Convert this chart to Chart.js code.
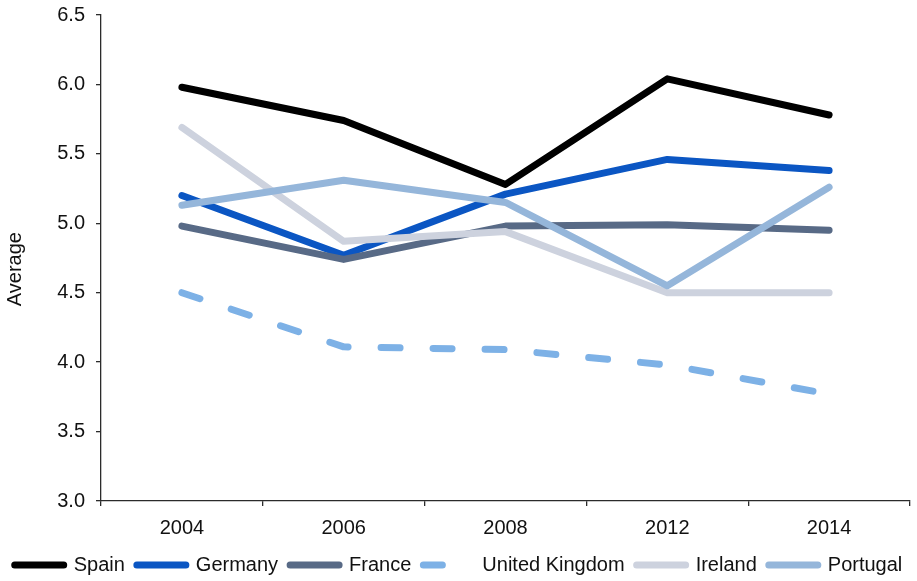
<!DOCTYPE html>
<html>
<head>
<meta charset="utf-8">
<script src="https://cdn.jsdelivr.net/npm/chart.js@4.4.1/dist/chart.umd.min.js"></script>
<style>
  body { margin: 0; background: #fff; }
  #wrap { width: 917px; height: 581px; }
</style>
</head>
<body>
<div id="wrap"><canvas id="chart"></canvas></div>
<script>
// dados do gráfico
const years = ['2004', '2006', '2008', '2012', '2014'];
const spain = [5.98, 5.74, 5.28, 6.04, 5.78];
const germany = [5.20, 4.77, 5.21, 5.46, 5.38];
const france = [4.98, 4.74, 4.98, 4.99, 4.95];
const unitedKingdom = [4.50, 4.11, 4.09, 3.98, 3.77];
const ireland = [5.69, 4.87, 4.94, 4.50, 4.50];
const portugal = [5.13, 5.31, 5.15, 4.55, 5.26];
const yTicks = [3.0, 3.5, 4.0, 4.5, 5.0, 5.5, 6.0, 6.5];

const font = { family: 'Liberation Sans, Arial, sans-serif', size: 20 };
const axisColor = '#2b2b2b';

function serie (label, data, color, order, dash) {
    return {
        label: label,
        data: data,
        borderColor: color,
        backgroundColor: color,
        borderWidth: 7,
        borderCapStyle: 'round',
        borderJoinStyle: 'round',
        borderDash: dash || [],
        pointRadius: 0,
        pointHoverRadius: 0,
        tension: 0,
        fill: false,
        order: order
    };
}

const ctx = document.getElementById('chart').getContext('2d');
const chart = new Chart(ctx, {
    type: 'line',
    data: {
        labels: years,
        datasets: [
            serie('Spain', spain, '#000000', 5),
            serie('Germany', germany, '#0b56c3', 4),
            serie('France', france, '#586a86', 3),
            serie('United Kingdom', unitedKingdom, '#7db1e6', 2, [19, 33]),
            serie('Ireland', ireland, '#cdd2de', 1),
            serie('Portugal', portugal, '#95b6da', 0)
        ]
    },
    options: {
        responsive: true,
        maintainAspectRatio: false,
        animation: false,
        layout: { padding: { top: 0, right: 0, bottom: -4, left: 0 } },
        plugins: {
            tooltip: { enabled: false },
            legend: {
                position: 'bottom',
                labels: {
                    font: font,
                    color: '#111',
                    padding: 12,
                    usePointStyle: true,
                    pointStyleWidth: 49,
                    generateLabels: (c) => c.data.datasets.map((ds, i) => ({
                        text: ds.label,
                        fontColor: '#111',
                        strokeStyle: ds.borderColor,
                        fillStyle: ds.borderColor,
                        lineWidth: 7,
                        lineCap: 'round',
                        lineDash: ds.borderDash,
                        pointStyle: 'line',
                        rotation: 180,
                        datasetIndex: i,
                        hidden: false
                    }))
                }
            }
        },
        scales: {
            x: {
                offset: true,
                grid: { offset: true, drawOnChartArea: false, tickLength: 5, color: axisColor, lineWidth: 1.3 },
                border: { color: axisColor, width: 1.3 },
                ticks: { font: font, color: '#111', padding: 10 },
                afterFit: (scale) => {
                    scale.height = 42;
                    scale.paddingRight = 7;
                }
            },
            y: {
                min: 3,
                max: 6.5,
                afterBuildTicks: (scale) => { scale.ticks = yTicks.map(v => ({ value: v })); },
                grid: { drawOnChartArea: false, tickLength: 5, color: axisColor, lineWidth: 1.3 },
                border: { color: axisColor, width: 1.3 },
                ticks: { font: font, color: '#111', padding: 11, callback: (v) => v.toFixed(1) },
                title: { display: true, text: 'Average    ', font: font, color: '#111', padding: { top: 3, bottom: 0 } },
                afterFit: (scale) => {
                    scale.width = 101;
                    scale.paddingTop = 15;
                    scale.paddingBottom = 0;
                }
            }
        }
    }
});
</script>
</body>
</html>
